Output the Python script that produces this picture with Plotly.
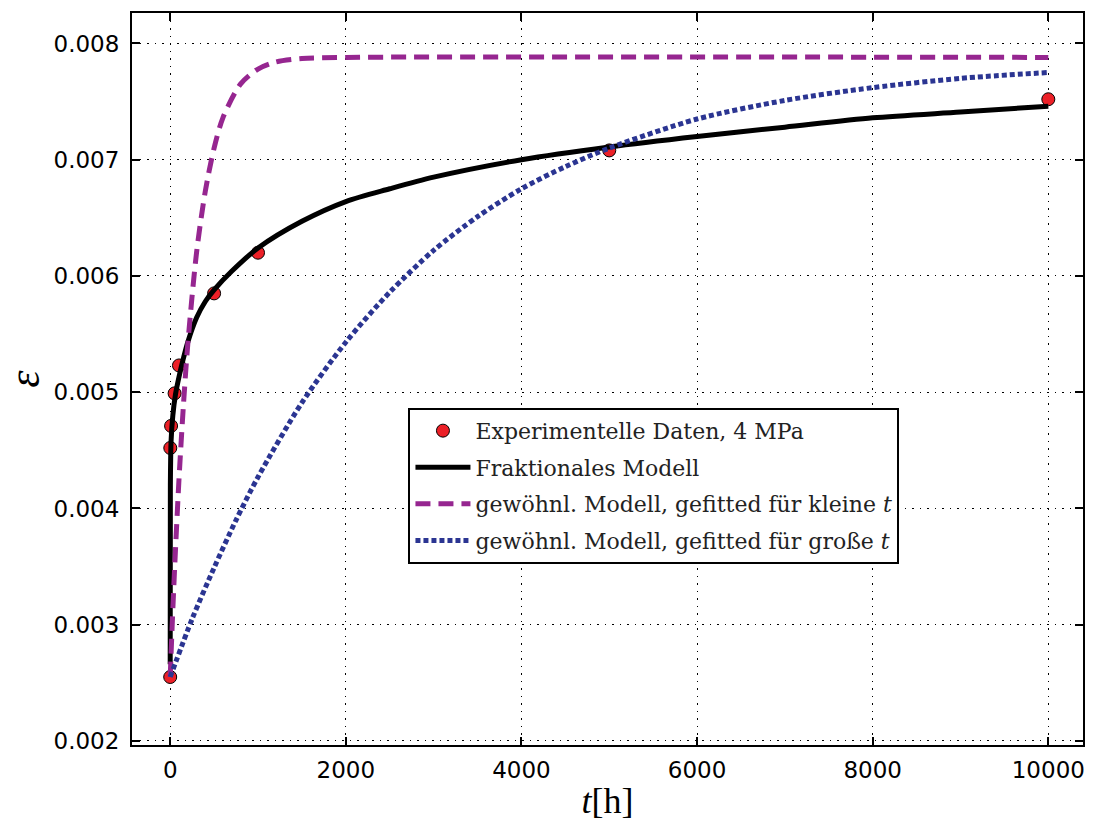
import plotly.graph_objects as go

# Experimental data
t_data = [0, 1, 10, 50, 100, 500, 1000, 5000, 10000]
eps_data = [0.00255, 0.00452, 0.00471, 0.00499, 0.00523, 0.00585, 0.00620, 0.00708, 0.00752]

# Fractional model
t_frac = [0, 2, 10, 30, 60, 100, 150, 200, 300, 400, 500, 700, 1000, 1500, 2000, 2500,
          3000, 4000, 5000, 6000, 7000, 8000, 9000, 10000]
eps_frac = [0.00266, 0.00420, 0.00458, 0.00480, 0.00498, 0.00513, 0.00529, 0.00543, 0.00564,
            0.00578, 0.00588, 0.00604, 0.00624, 0.00647, 0.00664, 0.00675, 0.00685, 0.00700,
            0.00711, 0.00720, 0.00728, 0.00736, 0.00741, 0.00746]

# Ordinary model, fitted for small t
t_small = [0, 25, 50, 100, 150, 200, 300, 400, 500, 600, 800, 1000, 1200, 1500, 2000, 10000]
eps_small = [0.00255, 0.00304, 0.00348, 0.00425, 0.00488, 0.00541, 0.00620, 0.00673, 0.00710,
             0.00736, 0.00765, 0.00778, 0.00784, 0.00787, 0.00788, 0.00788]

# Ordinary model, fitted for large t
t_large = [0, 250, 500, 750, 1000, 1500, 2000, 2500, 3000, 3500, 4000, 4500, 5000, 6000,
           7000, 8000, 9000, 10000]
eps_large = [0.00255, 0.00305, 0.00349, 0.00390, 0.00427, 0.00491, 0.00543, 0.00586, 0.00622,
             0.00651, 0.00675, 0.00694, 0.00710, 0.00735, 0.00751, 0.00762, 0.00770, 0.00775]

x_ticks = [0, 2000, 4000, 6000, 8000, 10000]
y_ticks = [0.002, 0.003, 0.004, 0.005, 0.006, 0.007, 0.008]

SERIF = "Liberation Serif"

fig = go.Figure()
fig.add_trace(go.Scatter(
    x=t_data, y=eps_data, mode="markers", name="Experimentelle Daten, 4 MPa",
    legendgroup="a",
    marker=dict(size=13, color="#ec2027", line=dict(color="black", width=1)),
))
fig.add_trace(go.Scatter(
    x=t_frac, y=eps_frac, mode="lines", name="Fraktionales Modell", legendgroup="b",
    line=dict(color="black", width=5, shape="spline", smoothing=0.8),
))
fig.add_trace(go.Scatter(
    x=t_small, y=eps_small, mode="lines", legendgroup="c",
    name="gewöhnl. Modell, gefitted für kleine <i>t</i>",
    line=dict(color="#962690", width=5, dash="15px,8px", shape="spline", smoothing=0.8),
))
fig.add_trace(go.Scatter(
    x=t_large, y=eps_large, mode="lines", legendgroup="d",
    name="gewöhnl. Modell, gefitted für große <i>t</i>",
    line=dict(color="#2b3592", width=5, dash="5px,3px", shape="spline", smoothing=0.8),
))

axis_common = dict(
    showline=True, linecolor="black", linewidth=2, mirror="allticks",
    ticks="inside", ticklen=8, tickwidth=1.5, tickcolor="black",
    showgrid=True, gridcolor="black", gridwidth=1.2, griddash="1.5px,6px",
    zeroline=False,
    tickfont=dict(family="DejaVu Sans", size=23, color="black"),
)

fig.update_xaxes(
    range=[-435, 10395], tickvals=x_ticks, ticktext=[str(v) for v in x_ticks],
    ticklabelstandoff=3,
    title=dict(text="<i>t</i>[h]", font=dict(family=SERIF, size=36, color="black"), standoff=6),
    **axis_common,
)
fig.update_yaxes(
    range=[0.001965, 0.008262], tickvals=y_ticks, ticktext=[f"{v:.3f}" for v in y_ticks],
    ticklabelstandoff=6,
    title=dict(text="<i>ε</i>", font=dict(family=SERIF, size=44, color="black"), standoff=12),
    **axis_common,
)

fig.update_layout(
    width=1096, height=825,
    margin=dict(l=130, r=13, t=11, b=78),
    plot_bgcolor="white", paper_bgcolor="white",
    legend=dict(
        x=0.2907, y=0.4606, xanchor="left", yanchor="top",
        bgcolor="white", bordercolor="black", borderwidth=2,
        font=dict(family="DejaVu Serif", size=22, color="#222"),
        itemwidth=55, tracegroupgap=5, traceorder="grouped",
    ),
    showlegend=True,
)

fig.write_html("out.html")
